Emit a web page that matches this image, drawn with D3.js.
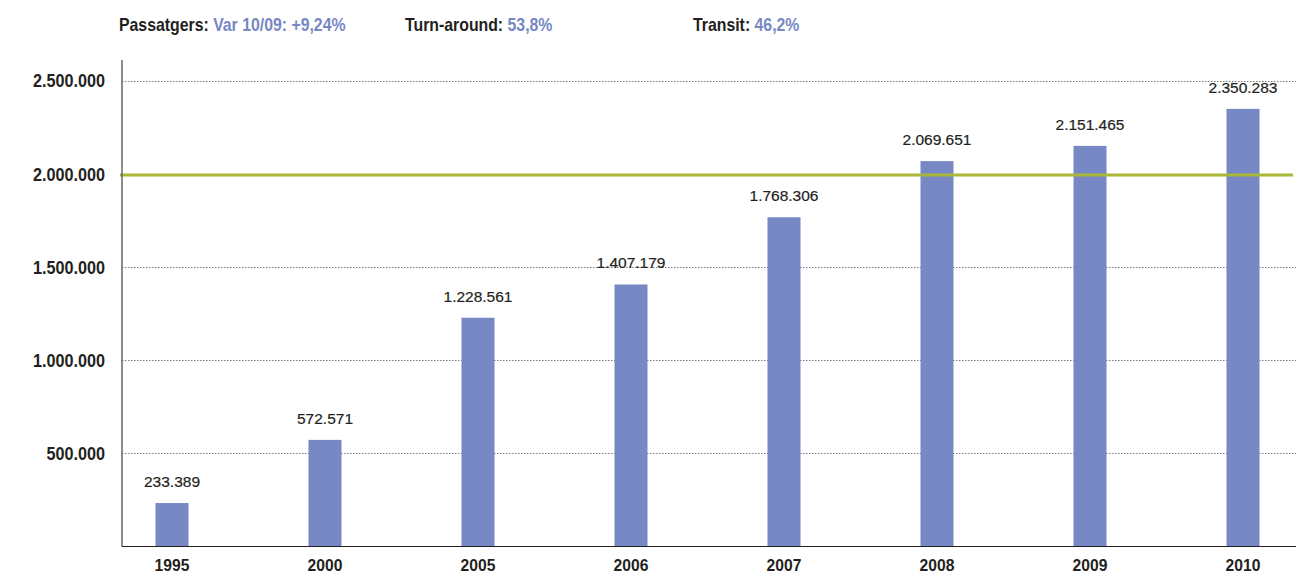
<!DOCTYPE html>
<html>
<head>
<meta charset="utf-8">
<script src="https://cdn.jsdelivr.net/npm/d3@7"></script>
<style>
  html, body { margin: 0; padding: 0; background: #fff; }
  svg { display: block; font-family: "Liberation Sans", Arial, sans-serif; }
</style>
</head>
<body>
<svg id="chart" width="1310" height="574"></svg>
<script>
// Passenger totals per year
const years = ["1995", "2000", "2005", "2006", "2007", "2008", "2009", "2010"];
const passengers = [233389, 572571, 1228561, 1407179, 1768306, 2069651, 2151465, 2350283];
const valueLabels = ["233.389", "572.571", "1.228.561", "1.407.179", "1.768.306", "2.069.651", "2.151.465", "2.350.283"];
const yTicks = [500000, 1000000, 1500000, 2000000, 2500000];
const yTickLabels = ["500.000", "1.000.000", "1.500.000", "2.000.000", "2.500.000"];
const referenceLine = 2000000;
const header = [
  { key: "Passatgers:", value: "Var 10/09: +9,24%" },
  { key: "Turn-around:", value: "53,8%" },
  { key: "Transit:", value: "46,2%" }
];

const svg = d3.select("#chart");
const dark = "#231f20";
const blue = "#7788c4";
const green = "#a9b837";

const plotLeft = 122, plotRight = 1296, plotTop = 60, plotBottom = 546.5;

const x = d3.scalePoint().domain(years).range([172, 1243]);
const y = d3.scaleLinear().domain([0, 2500000]).range([plotBottom, 81]);
const barW = 33;

// condensed lettering: place text at (px, py) and squeeze it horizontally
const squeeze = (px, py, sx) => `translate(${px},${py}) scale(${sx},1)`;

// header line
const headerX = [119, 405, 693];
header.forEach((h, i) => {
  const t = svg.append("text")
    .attr("transform", squeeze(headerX[i], 31, 0.88))
    .attr("font-size", 18).attr("font-weight", "bold");
  t.append("tspan").attr("fill", dark).text(h.key + " ");
  t.append("tspan").attr("fill", blue).text(h.value);
});

// dotted gridlines
svg.append("g").selectAll("line")
  .data(yTicks.filter(v => v !== referenceLine))
  .join("line")
  .attr("x1", plotLeft).attr("x2", plotRight)
  .attr("y1", d => Math.round(y(d)) + 0.5).attr("y2", d => Math.round(y(d)) + 0.5)
  .attr("stroke", "#555").attr("stroke-width", 0.8)
  .attr("stroke-dasharray", "1.5,1.5");

// y tick labels
svg.append("g").selectAll("text")
  .data(yTicks)
  .join("text")
  .attr("transform", d => squeeze(105, y(d), 0.9))
  .attr("dy", "0.36em")
  .attr("text-anchor", "end")
  .attr("font-size", 18).attr("font-weight", "bold")
  .attr("fill", dark)
  .text((d, i) => yTickLabels[i]);

// bars
svg.append("g").selectAll("rect")
  .data(passengers)
  .join("rect")
  .attr("x", (d, i) => x(years[i]) - barW / 2)
  .attr("width", barW)
  .attr("y", d => y(d))
  .attr("height", d => plotBottom - y(d))
  .attr("fill", blue);

// reference line at 2.000.000
svg.append("line")
  .attr("x1", plotLeft - 2).attr("x2", plotRight - 3)
  .attr("y1", y(referenceLine) + 1).attr("y2", y(referenceLine) + 1)
  .attr("stroke", green).attr("stroke-width", 3);

// value labels
svg.append("g").selectAll("text")
  .data(passengers)
  .join("text")
  .attr("x", (d, i) => x(years[i]))
  .attr("y", d => y(d) - 16)
  .attr("text-anchor", "middle")
  .attr("font-size", 15.5)
  .attr("fill", dark)
  .attr("stroke", dark).attr("stroke-width", 0.2)
  .text((d, i) => valueLabels[i]);

// axes
svg.append("line")
  .attr("x1", plotLeft).attr("x2", plotLeft)
  .attr("y1", plotTop).attr("y2", plotBottom)
  .attr("stroke", "#666").attr("stroke-width", 1.5);
svg.append("line")
  .attr("x1", plotLeft).attr("x2", plotRight)
  .attr("y1", plotBottom).attr("y2", plotBottom)
  .attr("stroke", dark).attr("stroke-width", 1.2);

// year labels
svg.append("g").selectAll("text")
  .data(years)
  .join("text")
  .attr("transform", d => squeeze(x(d), 565, 0.95))
  .attr("dy", "0.36em")
  .attr("text-anchor", "middle")
  .attr("font-size", 16.5).attr("font-weight", "bold")
  .attr("fill", dark)
  .text(d => d);
</script>
</body>
</html>
